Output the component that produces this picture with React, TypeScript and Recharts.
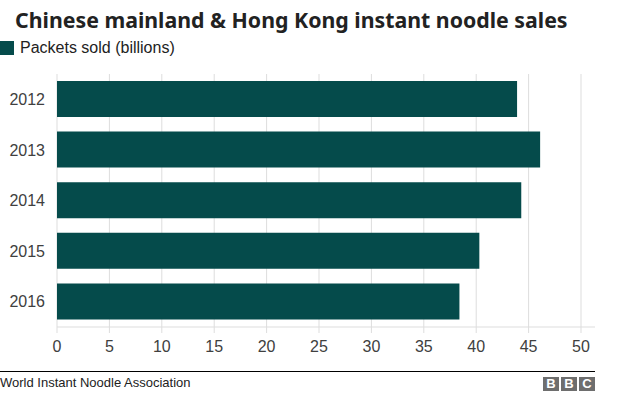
import React from 'react';
import { BarChart, Bar, XAxis, YAxis, CartesianGrid } from 'recharts';

const years = ['2012', '2013', '2014', '2015', '2016'];
const packetsSold = [43.9, 46.1, 44.3, 40.3, 38.4];
const xTicks = [0, 5, 10, 15, 20, 25, 30, 35, 40, 45, 50];

const title = 'Chinese mainland & Hong Kong instant noodle sales';
const seriesName = 'Packets sold (billions)';
const source = 'World Instant Noodle Association';

const TEAL = '#054b4b';
const FONT = '"Liberation Sans", Arial, sans-serif';
const X_MAX = 50;
const RIGHT_PAD = 14;

const chartData = years.map((year, i) => ({ year, value: packetsSold[i] }));

const BbcBlock = ({ letter }: { letter: string }) => (
  <div
    style={{
      width: 16,
      height: 14,
      background: '#6e6e6e',
      color: '#fff',
      fontFamily: FONT,
      fontWeight: 'bold',
      fontSize: 13,
      lineHeight: '14px',
      textAlign: 'center',
    }}
  >
    {letter}
  </div>
);

// gridlines only at the tick values, not at the padded right edge
const gridAtTicks = (props: any) => {
  const scale = props?.xAxis?.scale;
  if (typeof scale === 'function') {
    const pts = xTicks.map((t) => scale(t));
    if (pts.every((p) => Number.isFinite(p))) return pts;
  }
  const offset = props?.offset || {};
  const left = offset.left ?? 0;
  const w = (offset.width ?? 0) - RIGHT_PAD;
  return xTicks.map((t) => left + (t / X_MAX) * w);
};

const App: React.FC = () => {
  return (
    <div
      style={{
        position: 'absolute',
        left: 0,
        top: 0,
        width: 624,
        height: 395,
        background: '#fff',
        overflow: 'hidden',
      }}
    >
      <div
        style={{
          position: 'absolute',
          left: 15,
          top: 5,
          fontFamily: '"Noto Sans", sans-serif',
          fontWeight: 'bold',
          fontSize: 21.3,
          color: '#222',
          whiteSpace: 'nowrap',
        }}
      >
        {title}
      </div>

      {/* legend */}
      <div style={{ position: 'absolute', left: 0, top: 39, display: 'flex', alignItems: 'center' }}>
        <div style={{ width: 14, height: 14, background: TEAL }} />
        <span
          style={{
            marginLeft: 6,
            fontFamily: FONT,
            fontSize: 16,
            color: '#222',
            whiteSpace: 'nowrap',
          }}
        >
          {seriesName}
        </span>
      </div>

      <div style={{ position: 'absolute', left: 0, top: 0 }}>
        <BarChart
          width={624}
          height={360}
          data={chartData}
          layout="vertical"
          margin={{ top: 74, right: 29, bottom: 0, left: 0 }}
          barSize={36}
        >
          <CartesianGrid horizontal={false} stroke="#dddddd" verticalCoordinatesGenerator={gridAtTicks} />
          <XAxis
            type="number"
            domain={[0, X_MAX]}
            ticks={xTicks}
            padding={{ left: 0, right: RIGHT_PAD }}
            height={33}
            axisLine={{ stroke: '#dddddd' }}
            tickLine={{ stroke: '#dddddd' }}
            tickSize={6}
            tickMargin={8}
            tick={{ fill: '#404040', fontSize: 16, fontFamily: FONT }}
          />
          <YAxis
            type="category"
            dataKey="year"
            width={57}
            axisLine={false}
            tickLine={false}
            tickSize={0}
            tickMargin={12}
            tick={{ fill: '#404040', fontSize: 16, fontFamily: FONT }}
          />
          <Bar dataKey="value" fill={TEAL} isAnimationActive={false} />
        </BarChart>
      </div>

      {/* footer */}
      <div style={{ position: 'absolute', left: 0, top: 371, width: 595, height: 1, background: '#000' }} />
      <div
        style={{
          position: 'absolute',
          left: 0,
          top: 375,
          fontFamily: FONT,
          fontSize: 13,
          color: '#222',
          whiteSpace: 'nowrap',
        }}
      >
        {source}
      </div>
      <div style={{ position: 'absolute', left: 543, top: 377, display: 'flex', gap: 2 }}>
        <BbcBlock letter="B" />
        <BbcBlock letter="B" />
        <BbcBlock letter="C" />
      </div>
    </div>
  );
};

export default App;
